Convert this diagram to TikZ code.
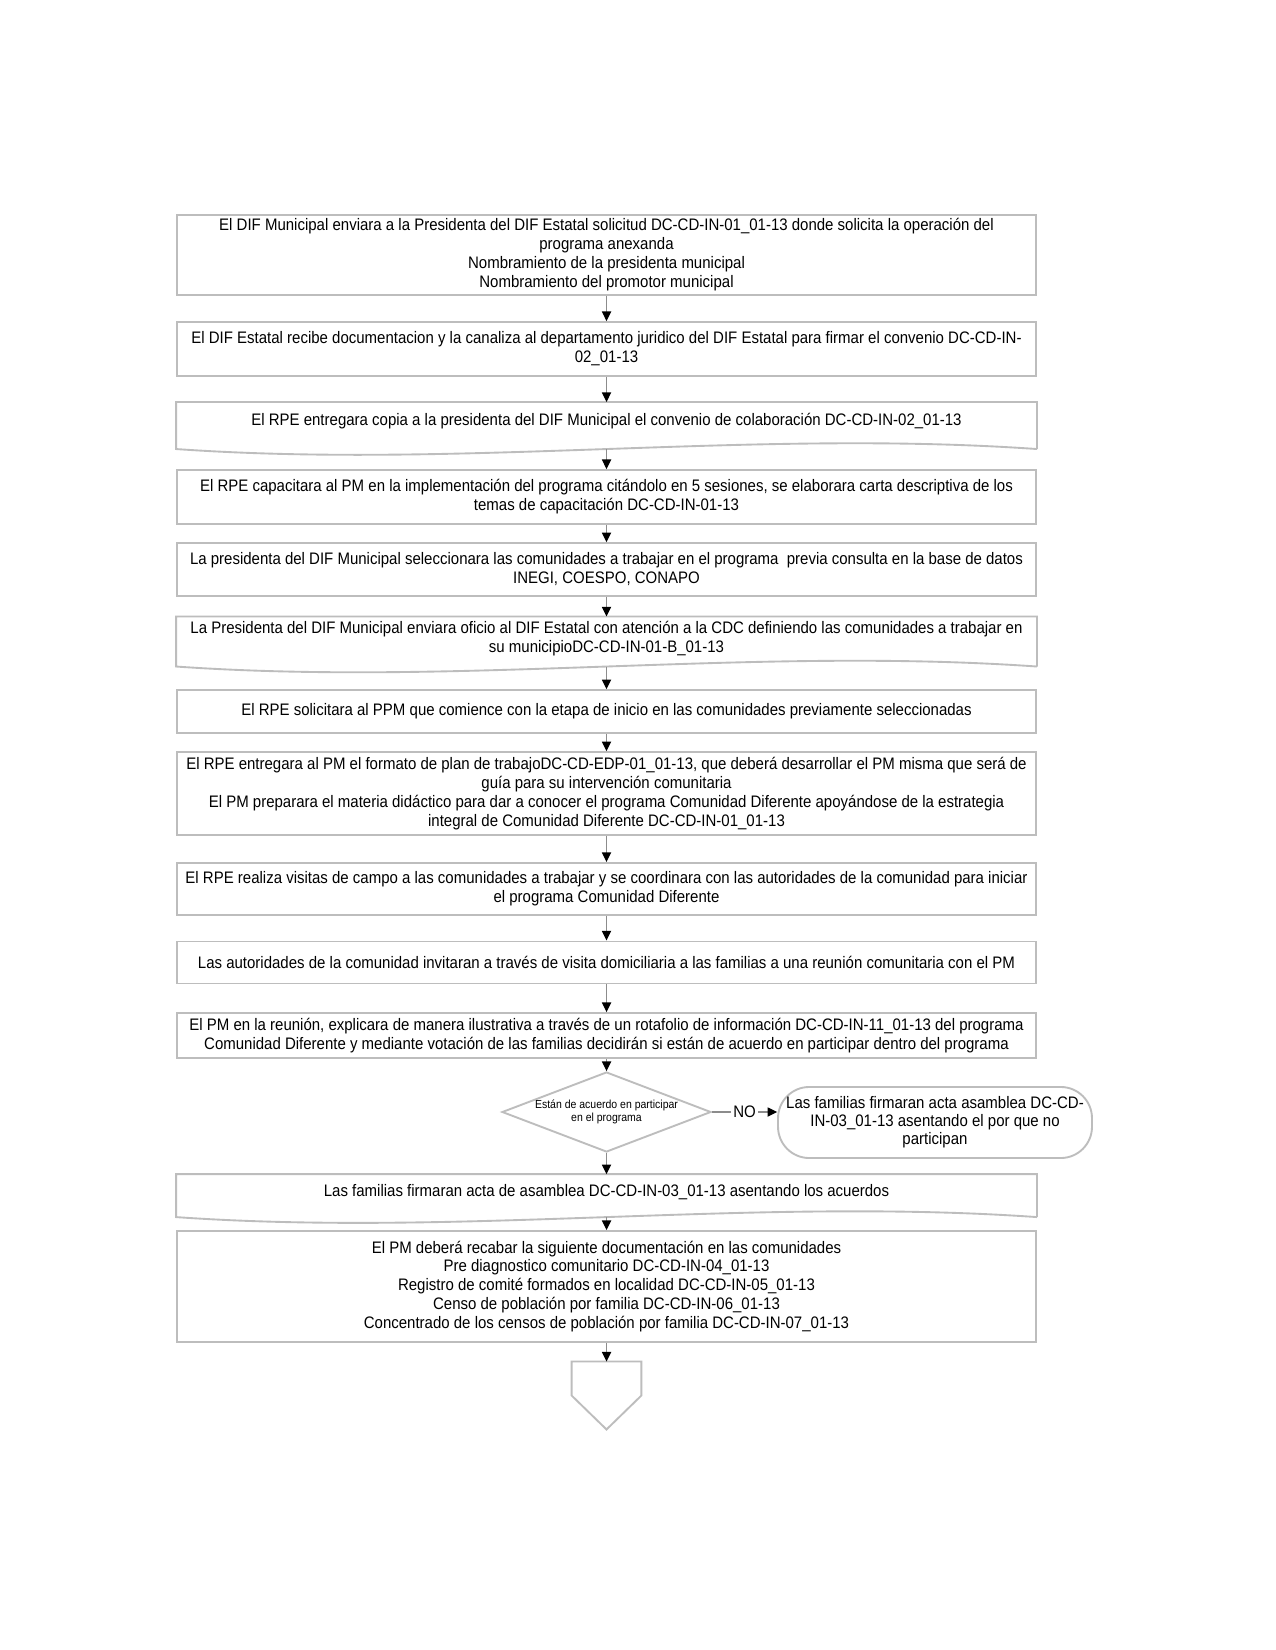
\documentclass[tikz,border=0pt]{standalone}
\usepackage{fontspec}
\setmainfont{Liberation Sans}[FakeStretch=0.9]
\usetikzlibrary{arrows.meta, positioning, calc, shapes.geometric}
\definecolor{cborder}{HTML}{BDBDBD}
\definecolor{cline}{HTML}{8C8C8C}

\begin{document}
\begin{tikzpicture}[x=0.48pt, y=-0.48pt,
  stepbox/.style={draw=cborder, line width=0.9pt, minimum width=412.3pt, inner sep=1pt,
    align=center, font=\fontsize{8}{9.1}\selectfont},
  docbox/.style={stepbox, draw=none},
  decbox/.style={diamond, draw=cborder, line width=0.9pt, minimum width=100.3pt,
    minimum height=38.4pt, aspect=2.6, inner sep=0pt, align=center,
    font=\fontsize{5.6}{6.6}\selectfont},
  endbox/.style={draw=cborder, line width=0.9pt, rounded corners=15pt, minimum width=150.7pt,
    minimum height=34.1pt, inner sep=1pt, align=center, font=\fontsize{8}{8.6}\selectfont},
  arr/.style={draw=cline, line width=0.6pt, -{Triangle[color=black, length=4.6pt, width=4.4pt]}}
]
  \fill[white] (0,0) rectangle (1275,1650);

  % steps
  \node[stepbox, minimum height=38.4pt] (s1) at (606.5,254.6)
    {El DIF Municipal enviara a la Presidenta del DIF Estatal solicitud DC-CD-IN-01\_01-13 donde solicita la operación del\\
     programa anexanda\\Nombramiento de la presidenta municipal\\Nombramiento del promotor municipal};
  \node[stepbox, minimum height=25.9pt] (s2) at (606.5,349)
    {El DIF Estatal recibe documentacion y la canaliza al departamento juridico del DIF Estatal para firmar el convenio DC-CD-IN-\\02\_01-13};
  \node[docbox, minimum height=17.3pt] (d3) at (606.5,421)
    {El RPE entregara copia a la presidenta del DIF Municipal el convenio de colaboración DC-CD-IN-02\_01-13};
  \node[stepbox, minimum height=25.9pt] (s4) at (606.5,497)
    {El RPE capacitara al PM en la implementación del programa citándolo en 5 sesiones, se elaborara carta descriptiva de los\\
     temas de capacitación DC-CD-IN-01-13};
  \node[stepbox, minimum height=25.4pt] (s5) at (606.5,569.5)
    {La presidenta del DIF Municipal seleccionara las comunidades a trabajar en el programa\ \ previa consulta en la base de datos\\
     INEGI, COESPO, CONAPO};
  \node[docbox, minimum height=20.2pt] (d6) at (606.5,638.5)
    {La Presidenta del DIF Municipal enviara oficio al DIF Estatal con atención a la CDC definiendo las comunidades a trabajar en\\
     su municipioDC-CD-IN-01-B\_01-13};
  \node[stepbox, minimum height=20.6pt] (s7) at (606.5,711.5)
    {El RPE solicitara al PPM que comience con la etapa de inicio en las comunidades previamente seleccionadas};
  \node[stepbox, minimum height=39.8pt] (s8) at (606.5,793.5)
    {El RPE entregara al PM el formato de plan de trabajoDC-CD-EDP-01\_01-13, que deberá desarrollar el PM misma que será de\\
     guía para su intervención comunitaria\\
     El PM preparara el materia didáctico para dar a conocer el programa Comunidad Diferente apoyándose de la estrategia\\
     integral de Comunidad Diferente DC-CD-IN-01\_01-13};
  \node[stepbox, minimum height=25pt] (s9) at (606.5,889)
    {El RPE realiza visitas de campo a las comunidades a trabajar y se coordinara con las autoridades de la comunidad para iniciar\\
     el programa Comunidad Diferente};
  \node[stepbox, minimum height=20.2pt] (s10) at (606.5,962.5)
    {Las autoridades de la comunidad invitaran a través de visita domiciliaria a las familias a una reunión comunitaria con el PM};
  \node[stepbox, minimum height=21.6pt] (s11) at (606.5,1035.5)
    {El PM en la reunión, explicara de manera ilustrativa a través de un rotafolio de información DC-CD-IN-11\_01-13 del programa\\
     Comunidad Diferente y mediante votación de las familias decidirán si están de acuerdo en participar dentro del programa};
  \node[decbox] (dec) at (606.5,1112) {Están de acuerdo en participar\\en el programa};
  \node[endbox] (term) at (935,1122.5)
    {Las familias firmaran acta asamblea DC-CD-\\IN-03\_01-13 asentando el por que no\\participan};
  \node[docbox, minimum height=16.3pt] (d12) at (606.5,1192)
    {Las familias firmaran acta de asamblea DC-CD-IN-03\_01-13 asentando los acuerdos};
  \node[stepbox, minimum height=53.3pt] (s13) at (606.5,1286.5)
    {El PM deberá recabar la siguiente documentación en las comunidades\\
     Pre diagnostico comunitario DC-CD-IN-04\_01-13\\
     Registro de comité formados en localidad DC-CD-IN-05\_01-13\\
     Censo de población por familia DC-CD-IN-06\_01-13\\
     Concentrado de los censos de población por familia DC-CD-IN-07\_01-13};
  \node[minimum width=33.1pt, minimum height=32.2pt, inner sep=0pt] (off) at (606.5,1395.5) {};

  % document outlines with wavy bottom
  \foreach \d/\h in {d3/47, d6/50, d12/43}{
    \draw[cborder, line width=0.9pt] ($(\d.north east)+(0,\h)$) -- (\d.north east) -- (\d.north west)
      -- ($(\d.north west)+(0,\h)$) .. controls +(286,20) and +(-286,-20) .. ($(\d.north east)+(0,\h)$);
    \coordinate (\d end) at ($(\d.north)+(0,\h)$);
  }
  % off-page connector
  \draw[cborder, line width=0.9pt] (off.north west) -- (off.north east) -- (off.east) -- (off.south)
    -- (off.west) -- cycle;

  % connectors
  \foreach \a/\b in {s1/s2, s2/d3, d3end/s4, s4/s5, s5/d6, d6end/s7, s7/s8, s8/s9, s9/s10,
                     s10/s11, s11/dec, dec/d12, d12end/s13, s13/off}
    \draw[arr] (\a) -- (\b);
  \draw[arr] (dec.east) -- node[fill=white, inner sep=1pt, font=\fontsize{8}{9}\selectfont] {NO}
    (dec.east -| term.west);
\end{tikzpicture}
\end{document}
